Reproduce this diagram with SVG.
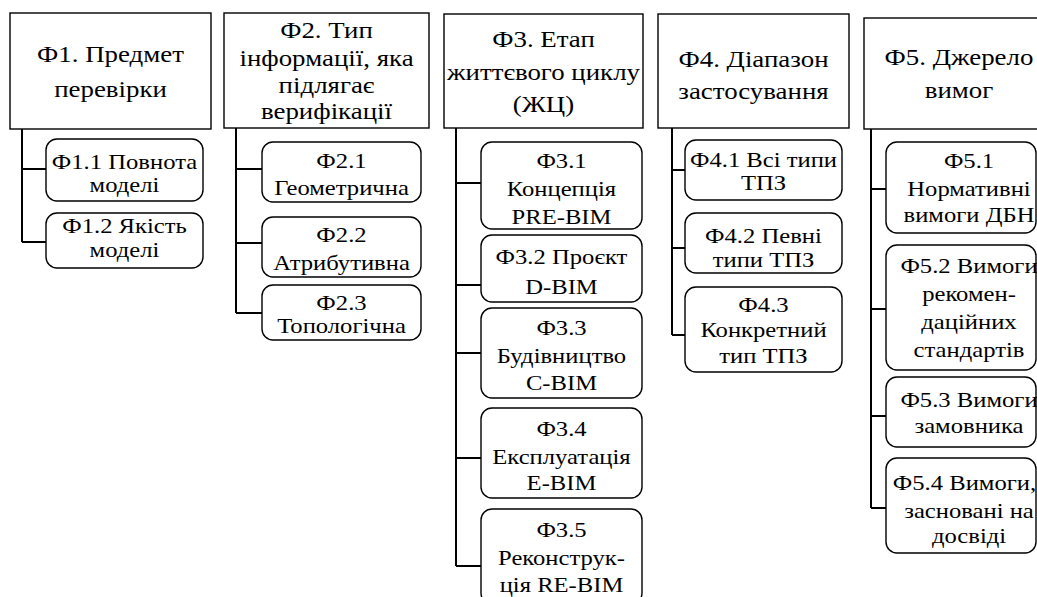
<svg xmlns="http://www.w3.org/2000/svg" width="1037" height="597" viewBox="0 0 1037 597" font-family="Liberation Serif, Times New Roman, serif">
<style>
.hb{fill:#fff;stroke:#000;stroke-width:1.4}
.sb{fill:#fff;stroke:#000;stroke-width:1.4}
.ht{font-size:24px;fill:#000;text-anchor:middle}
.st{font-size:22px;fill:#000;text-anchor:middle}
.cn{fill:none;stroke:#000;stroke-width:2}
</style>
<rect width="1037" height="597" fill="#fff"/>
<g id="connectors">
<path class="cn" d="M22 129V242M22 169H46M22 242H46"/>
<path class="cn" d="M236 128V313M236 169H262M236 243H262M236 313H262"/>
<path class="cn" d="M456 128V566M456 183H481M456 285H481M456 353H481M456 458H481M456 566H481"/>
<path class="cn" d="M672 128V335M672 170H685M672 248H685M672 335H685"/>
<path class="cn" d="M871 129V508M871 189H886M871 309H886M871 416H886M871 508H886"/>
</g>
<g id="f1">
<rect class="hb" x="10" y="13" width="201" height="116"/>
<g transform="matrix(1.12 0 0 1 -13.26 0)"><text class="ht" x="110.5" y="62">Ф1. Предмет</text>
<text class="ht" x="110.5" y="97">перевірки</text></g>
</g>
<g id="f1-1"><rect class="sb" x="46" y="139" width="157" height="62" rx="11"/>
<g transform="matrix(1.12 0 0 1 -14.94 0)"><text class="st" x="124.5" y="169">Ф1.1 Повнота</text><text class="st" x="124.5" y="192">моделі</text></g></g>
<g id="f1-2"><rect class="sb" x="46" y="213" width="157" height="55" rx="11"/>
<g transform="matrix(1.12 0 0 1 -14.94 0)"><text class="st" x="124.5" y="233">Ф1.2 Якість</text><text class="st" x="124.5" y="257">моделі</text></g></g>
<g id="f2">
<rect class="hb" x="224" y="13" width="205" height="115"/>
<g transform="matrix(1.12 0 0 1 -39.18 0)"><text class="ht" x="326.5" y="38">Ф2. Тип</text>
<text class="ht" x="326.5" y="66">інформації, яка</text>
<text class="ht" x="326.5" y="93">підлягає</text>
<text class="ht" x="326.5" y="119">верифікації</text></g>
</g>
<g id="f2-1"><rect class="sb" x="262" y="142" width="159" height="60" rx="11"/>
<g transform="matrix(1.12 0 0 1 -40.98 0)"><text class="st" x="341.5" y="168">Ф2.1</text><text class="st" x="341.5" y="195">Геометрична</text></g></g>
<g id="f2-2"><rect class="sb" x="262" y="217" width="159" height="60" rx="11"/>
<g transform="matrix(1.12 0 0 1 -40.98 0)"><text class="st" x="341.5" y="242">Ф2.2</text><text class="st" x="341.5" y="270">Атрибутивна</text></g></g>
<g id="f2-3"><rect class="sb" x="262" y="285" width="159" height="55" rx="11"/>
<g transform="matrix(1.12 0 0 1 -40.98 0)"><text class="st" x="341.5" y="310">Ф2.3</text><text class="st" x="341.5" y="333">Топологічна</text></g></g>
<g id="f3">
<rect class="hb" x="444" y="14" width="199" height="114"/>
<g transform="matrix(1.12 0 0 1 -65.22 0)"><text class="ht" x="543.5" y="47">Ф3. Етап</text>
<text class="ht" x="543.5" y="80">життєвого циклу</text>
<text class="ht" x="543.5" y="112">(ЖЦ)</text></g>
</g>
<g id="f3-1"><rect class="sb" x="481" y="142" width="161" height="87" rx="11"/>
<g transform="matrix(1.12 0 0 1 -67.38 0)"><text class="st" x="561.5" y="168">Ф3.1</text><text class="st" x="561.5" y="196">Концепція</text><text class="st" x="561.5" y="224">PRE-BIM</text></g></g>
<g id="f3-2"><rect class="sb" x="481" y="235" width="161" height="67" rx="11"/>
<g transform="matrix(1.12 0 0 1 -67.38 0)"><text class="st" x="561.5" y="264">Ф3.2 Проєкт</text><text class="st" x="561.5" y="294">D-BIM</text></g></g>
<g id="f3-3"><rect class="sb" x="481" y="308" width="161" height="90" rx="11"/>
<g transform="matrix(1.12 0 0 1 -67.38 0)"><text class="st" x="561.5" y="335">Ф3.3</text><text class="st" x="561.5" y="363">Будівництво</text><text class="st" x="561.5" y="390">C-BIM</text></g></g>
<g id="f3-4"><rect class="sb" x="481" y="408" width="161" height="90" rx="11"/>
<g transform="matrix(1.12 0 0 1 -67.38 0)"><text class="st" x="561.5" y="436">Ф3.4</text><text class="st" x="561.5" y="464">Експлуатація</text><text class="st" x="561.5" y="490">E-BIM</text></g></g>
<g id="f3-5"><rect class="sb" x="481" y="509" width="161" height="95" rx="11"/>
<g transform="matrix(1.12 0 0 1 -67.38 0)"><text class="st" x="561.5" y="537">Ф3.5</text><text class="st" x="561.5" y="565">Реконструк-</text><text class="st" x="561.5" y="592">ція RE-BIM</text></g></g>
<g id="f4">
<rect class="hb" x="658" y="14" width="191" height="114"/>
<g transform="matrix(1.12 0 0 1 -90.42 0)"><text class="ht" x="753.5" y="67">Ф4. Діапазон</text>
<text class="ht" x="753.5" y="99">застосування</text></g>
</g>
<g id="f4-1"><rect class="sb" x="685" y="140" width="157" height="60" rx="11"/>
<g transform="matrix(1.12 0 0 1 -91.62 0)"><text class="st" x="763.5" y="167">Ф4.1 Всі типи</text><text class="st" x="763.5" y="190">ТПЗ</text></g></g>
<g id="f4-2"><rect class="sb" x="685" y="213" width="157" height="60" rx="11"/>
<g transform="matrix(1.12 0 0 1 -91.62 0)"><text class="st" x="763.5" y="243">Ф4.2 Певні</text><text class="st" x="763.5" y="267">типи ТПЗ</text></g></g>
<g id="f4-3"><rect class="sb" x="685" y="287" width="157" height="85" rx="11"/>
<g transform="matrix(1.12 0 0 1 -91.62 0)"><text class="st" x="763.5" y="312">Ф4.3</text><text class="st" x="763.5" y="337">Конкретний</text><text class="st" x="763.5" y="363">тип ТПЗ</text></g></g>
<g id="f5">
<rect class="hb" x="864" y="18" width="190" height="111"/>
<g transform="matrix(1.12 0 0 1 -115.08 0)"><text class="ht" x="959" y="65">Ф5. Джерело</text>
<text class="ht" x="959" y="98">вимог</text></g>
</g>
<g id="f5-1"><rect class="sb" x="886" y="142" width="150" height="91" rx="11"/>
<g transform="matrix(1.12 0 0 1 -116.28 0)"><text class="st" x="969" y="168">Ф5.1</text><text class="st" x="969" y="196">Нормативні</text><text class="st" x="969" y="222">вимоги ДБН</text></g></g>
<g id="f5-2"><rect class="sb" x="886" y="245" width="150" height="125" rx="11"/>
<g transform="matrix(1.12 0 0 1 -116.28 0)"><text class="st" x="969" y="273">Ф5.2 Вимоги</text><text class="st" x="969" y="301">рекомен-</text><text class="st" x="969" y="329">дацiйних</text><text class="st" x="969" y="357">стандартів</text></g></g>
<g id="f5-3"><rect class="sb" x="886" y="377" width="150" height="70" rx="11"/>
<g transform="matrix(1.12 0 0 1 -116.28 0)"><text class="st" x="969" y="407">Ф5.3 Вимоги</text><text class="st" x="969" y="433">замовника</text></g></g>
<g id="f5-4"><rect class="sb" x="886" y="458" width="150" height="95" rx="11"/>
<g transform="matrix(1.12 0 0 1 -116.28 0)"><text class="st" x="965" y="490">Ф5.4 Вимоги,</text><text class="st" x="969" y="518">засновані на</text><text class="st" x="969" y="543">досвіді</text></g></g>
</svg>
